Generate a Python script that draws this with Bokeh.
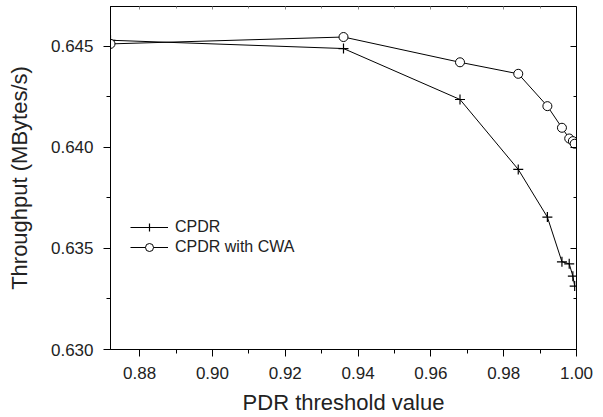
from bokeh.plotting import figure
from bokeh.models import (Range1d, LinearAxis, FixedTicker, Legend, LegendItem,
                          NumeralTickFormatter, CustomJSTickFormatter)
from bokeh.embed import file_html
from bokeh.resources import INLINE

# data
pdr = [0.872, 0.936, 0.968, 0.984, 0.992, 0.996, 0.998, 0.999, 0.9995]
cpdr = [0.6453, 0.64489, 0.64237, 0.63891, 0.63655, 0.63434, 0.63424, 0.63363, 0.63314]
cpdr_cwa = [0.64512, 0.64546, 0.64421, 0.64364, 0.64204, 0.64097, 0.64044, 0.64031, 0.64018]
x_ticks = [0.88, 0.90, 0.92, 0.94, 0.96, 0.98, 1.00]
x_minor = [0.87, 0.89, 0.91, 0.93, 0.95, 0.97, 0.99]
y_ticks = [0.630, 0.635, 0.640, 0.645]
y_minor = [0.6325, 0.6375, 0.6425, 0.6475]

FONT = "Liberation Sans"

p = figure(width=595, height=417, output_backend="svg", toolbar_location=None,
           x_range=Range1d(0.872, 1.0), y_range=Range1d(0.630, 0.64697),
           min_border_left=110, min_border_right=19, min_border_top=6,
           min_border_bottom=67, x_axis_label="PDR threshold value",
           y_axis_label="Throughput (MBytes/s)")
p.xgrid.visible = False
p.ygrid.visible = False
p.outline_line_color = "black"
p.outline_line_width = 1
p.background_fill_color = "white"
p.border_fill_color = "white"

p.xaxis.ticker = FixedTicker(ticks=x_ticks, minor_ticks=x_minor)
p.yaxis.ticker = FixedTicker(ticks=y_ticks, minor_ticks=y_minor)
p.xaxis.formatter = NumeralTickFormatter(format="0.00")
p.yaxis.formatter = NumeralTickFormatter(format="0.000")

for ax in (p.xaxis[0], p.yaxis[0]):
    ax.axis_line_color = "black"
    ax.major_tick_line_color = "black"
    ax.minor_tick_line_color = "black"
    ax.major_tick_in = 0
    ax.minor_tick_in = 0
    ax.major_tick_out = 7
    ax.minor_tick_out = 4
    ax.major_label_text_font = FONT
    ax.major_label_text_font_size = "17px"
    ax.major_label_text_color = "#222222"
    ax.axis_label_text_font = FONT
    ax.axis_label_text_font_size = "22px"
    ax.axis_label_text_font_style = "normal"
    ax.axis_label_text_color = "#222222"
p.xaxis.major_label_standoff = 10
p.xaxis.axis_label_standoff = 8
p.yaxis.major_label_standoff = 10
p.yaxis.axis_label_standoff = 16

# right and top axes with inward ticks, no labels
blank = CustomJSTickFormatter(code="return ''")
ra = LinearAxis(ticker=FixedTicker(ticks=y_ticks, minor_ticks=y_minor),
                formatter=blank, major_label_standoff=0,
                major_tick_in=6, major_tick_out=0,
                minor_tick_in=3, minor_tick_out=0, axis_line_color="black")
ta = LinearAxis(ticker=FixedTicker(ticks=x_ticks, minor_ticks=x_minor),
                formatter=blank, major_label_standoff=0,
                major_tick_in=3, major_tick_out=0,
                minor_tick_in=2, minor_tick_out=0, axis_line_color="black",
                major_tick_line_color="#888888", minor_tick_line_color="#888888")
p.add_layout(ra, "right")
p.add_layout(ta, "above")

l1 = p.line(pdr, cpdr, line_color="black", line_width=1)
s1 = p.scatter(pdr, cpdr, marker="cross", size=10, line_color="black", line_width=1.2)
l2 = p.line(pdr, cpdr_cwa, line_color="black", line_width=1)
s2 = p.scatter(pdr, cpdr_cwa, marker="circle", size=9, line_color="black",
               fill_color="white", line_width=1)

legend = Legend(items=[LegendItem(label="CPDR", renderers=[l1, s1]),
                       LegendItem(label="CPDR with CWA", renderers=[l2, s2])],
                location=(20, 92), padding=0, margin=0, spacing=0,
                glyph_width=38, glyph_height=20, label_height=20,
                label_standoff=7, border_line_alpha=0, background_fill_alpha=0,
                label_text_font=FONT, label_text_font_size="16px",
                label_text_color="#222222")
p.add_layout(legend, "center")

open("out.html", "w").write(file_html(p, INLINE))
